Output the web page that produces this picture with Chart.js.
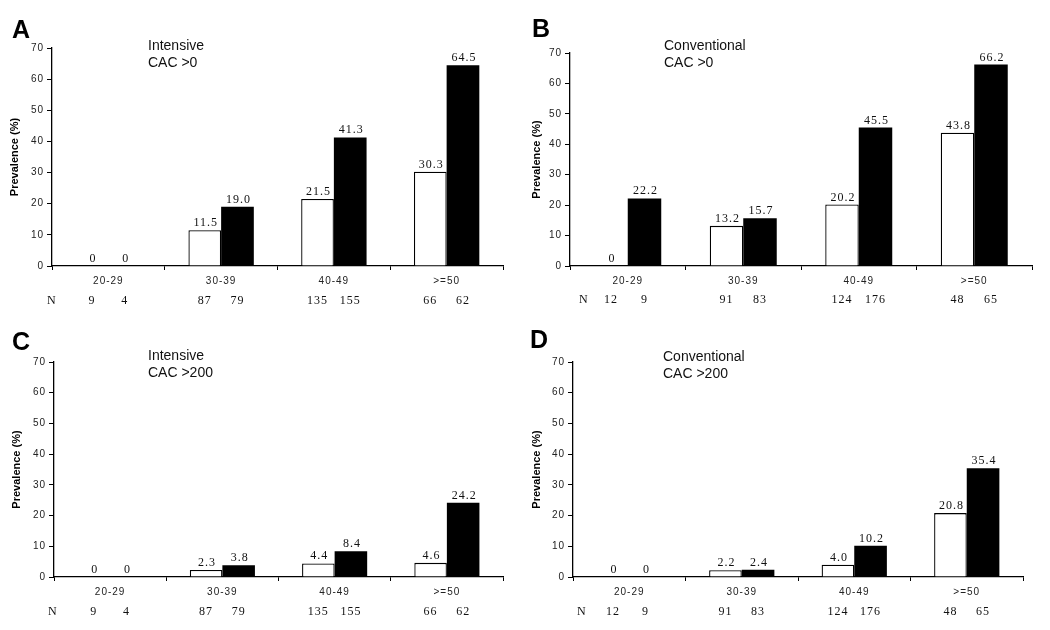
<!DOCTYPE html>
<html>
<head>
<meta charset="utf-8">
<script src="https://cdn.jsdelivr.net/npm/chart.js@4.4.1/dist/chart.umd.min.js"></script>
<style>
  html, body { margin: 0; padding: 0; background: #fff; }
  #wrap { position: relative; width: 1050px; height: 630px; }
  .panel { position: absolute; }
</style>
</head>
<body>
<div id="wrap">
  <div class="panel" style="left:0;top:0;width:525px;height:310px"><canvas id="cA"></canvas></div>
  <div class="panel" style="left:525px;top:0;width:525px;height:310px"><canvas id="cB"></canvas></div>
  <div class="panel" style="left:0;top:310px;width:525px;height:320px"><canvas id="cC"></canvas></div>
  <div class="panel" style="left:525px;top:310px;width:525px;height:320px"><canvas id="cD"></canvas></div>
</div>
<script>
// ---- Data ----
const ageGroups = ["20-29", "30-39", "40-49", ">=50"];
const yTicks = [0, 10, 20, 30, 40, 50, 60, 70];

const intensiveCac0_open = [0, 11.5, 21.5, 30.3];
const intensiveCac0_filled = [0, 19.0, 41.3, 64.5];
const conventionalCac0_open = [0, 13.2, 20.2, 43.8];
const conventionalCac0_filled = [22.2, 15.7, 45.5, 66.2];
const intensiveCac200_open = [0, 2.3, 4.4, 4.6];
const intensiveCac200_filled = [0, 3.8, 8.4, 24.2];
const conventionalCac200_open = [0, 2.2, 4.0, 20.8];
const conventionalCac200_filled = [0, 2.4, 10.2, 35.4];

const intensiveN_open = [9, 87, 135, 66];
const intensiveN_filled = [4, 79, 155, 62];
const conventionalN_open = [12, 91, 124, 48];
const conventionalN_filled = [9, 83, 176, 65];

const panelLetters = ["A", "B", "C", "D"];
const panelTitles = [["Intensive", "CAC >0"], ["Conventional", "CAC >0"], ["Intensive", "CAC >200"], ["Conventional", "CAC >200"]];
const yAxisTitle = "Prevalence (%)";

// ---- Layout (canvas coords) ----
const layouts = [
  { id: "cA", w: 525, h: 310, L: 52, T: 48, R: 503, B: 266, letterX: 12, letterY: 38, titleX: 148, titleY: 50, nX: 51, nY: 304, yTitleX: 15 },
  { id: "cB", w: 525, h: 310, L: 45, T: 53, R: 507, B: 266, letterX: 7, letterY: 37, titleX: 139, titleY: 50, nX: 58, nY: 303, yTitleX: 12 },
  { id: "cC", w: 525, h: 320, L: 54, T: 52, R: 503, B: 267, letterX: 12, letterY: 40, titleX: 148, titleY: 50, nX: 52, nY: 305, yTitleX: 17 },
  { id: "cD", w: 525, h: 320, L: 48, T: 52, R: 498, B: 267, letterX: 5, letterY: 38, titleX: 138, titleY: 51, nX: 56, nY: 305, yTitleX: 12 }
];

const panelData = [
  [intensiveCac0_open, intensiveCac0_filled, intensiveN_open, intensiveN_filled],
  [conventionalCac0_open, conventionalCac0_filled, conventionalN_open, conventionalN_filled],
  [intensiveCac200_open, intensiveCac200_filled, intensiveN_open, intensiveN_filled],
  [conventionalCac200_open, conventionalCac200_filled, conventionalN_open, conventionalN_filled]
];

const fmt = v => v === 0 ? "0" : v.toFixed(1);

const spacingPlugin = {
  id: "spacing",
  beforeDraw(chart) { chart.ctx.letterSpacing = "1px"; }
};

const annotatePlugin = {
  id: "annotate",
  afterDatasetsDraw(chart, args, opts) {
    const ctx = chart.ctx;
    ctx.save();
    // value labels above bars
    ctx.font = "12px 'Liberation Serif', 'Times New Roman', serif";
    ctx.letterSpacing = "1px";
    ctx.fillStyle = "#111";
    ctx.textAlign = "center";
    ctx.textBaseline = "alphabetic";
    chart.data.datasets.forEach((ds, di) => {
      const meta = chart.getDatasetMeta(di);
      meta.data.forEach((bar, i) => {
        ctx.fillText(fmt(ds.data[i]), bar.x + 1, bar.y - 4);
      });
    });
    // N row
    opts.nValues.forEach((arr, di) => {
      const meta = chart.getDatasetMeta(di);
      meta.data.forEach((bar, i) => {
        ctx.fillText(String(arr[i]), bar.x, opts.nY);
      });
    });
    ctx.textAlign = "left";
    ctx.letterSpacing = "0px";
    ctx.fillText("N", opts.nX - 4, opts.nY);
    // y-axis title
    const ca = chart.chartArea;
    ctx.save();
    ctx.translate(opts.yTitleX, (ca.top + ca.bottom) / 2);
    ctx.rotate(-Math.PI / 2);
    ctx.textAlign = "center";
    ctx.textBaseline = "middle";
    ctx.font = "bold 11px 'Liberation Sans', Arial, sans-serif";
    ctx.fillStyle = "#000";
    ctx.fillText(opts.yTitle, 0, 0);
    ctx.restore();
    // panel letter
    ctx.font = "bold 25px 'Liberation Sans', Arial, sans-serif";
    ctx.fillStyle = "#000";
    ctx.fillText(opts.letter, opts.letterX, opts.letterY);
    // title lines
    ctx.font = "14px 'Liberation Sans', Arial, sans-serif";
    ctx.fillStyle = "#111";
    opts.title.forEach((t, k) => ctx.fillText(t, opts.titleX, opts.titleY + k * 17));
    ctx.restore();
  }
};

layouts.forEach((lay, p) => {
  const [openVals, filledVals, nOpen, nFilled] = panelData[p];
  const canvas = document.getElementById(lay.id);
  canvas.width = lay.w; canvas.height = lay.h;
  const xAxisH = 30;
  new Chart(canvas, {
    type: "bar",
    data: {
      labels: ageGroups,
      datasets: [
        { label: "Open", data: openVals, backgroundColor: "#ffffff", borderColor: "#000", borderWidth: { top: 1.3, left: 1.3, right: 1.3, bottom: 0 }, borderSkipped: "bottom" },
        { label: "Filled", data: filledVals, backgroundColor: "#000000", borderColor: "#000", borderWidth: 0 }
      ]
    },
    options: {
      responsive: false,
      animation: false,
      devicePixelRatio: 1,
      layout: { padding: { left: 0, top: lay.T, right: lay.w - lay.R, bottom: lay.h - lay.B - xAxisH } },
      datasets: { bar: { categoryPercentage: 0.58, barPercentage: 1.0 } },
      plugins: {
        legend: { display: false },
        tooltip: { enabled: false },
        annotate: { nValues: [nOpen, nFilled], nX: lay.nX, nY: lay.nY, letter: panelLetters[p], letterX: lay.letterX, letterY: lay.letterY, title: panelTitles[p], titleX: lay.titleX, titleY: lay.titleY, yTitle: yAxisTitle, yTitleX: lay.yTitleX }
      },
      scales: {
        x: {
          offset: true,
          afterFit: s => { s.height = xAxisH; },
          grid: { display: true, drawOnChartArea: false, drawTicks: true, tickLength: 4, color: "#000", offset: true, lineWidth: 1 },
          border: { display: true, color: "#000", width: 1.3 },
          ticks: { color: "#222", font: { family: "'Liberation Sans', Arial, sans-serif", size: 10 }, padding: 5 }
        },
        y: {
          min: 0, max: 70,
          afterFit: s => { s.width = lay.L; },
          afterBuildTicks: s => { s.ticks = yTicks.map(v => ({ value: v })); },
          grid: { display: true, drawOnChartArea: false, drawTicks: true, tickLength: 5, color: "#000" },
          border: { display: true, color: "#000", width: 1.3 },
          ticks: { color: "#222", font: { family: "'Liberation Sans', Arial, sans-serif", size: 10 }, padding: 3 },
          title: { display: false }
        }
      }
    },
    plugins: [spacingPlugin, annotatePlugin]
  });
});
</script>
</body>
</html>
